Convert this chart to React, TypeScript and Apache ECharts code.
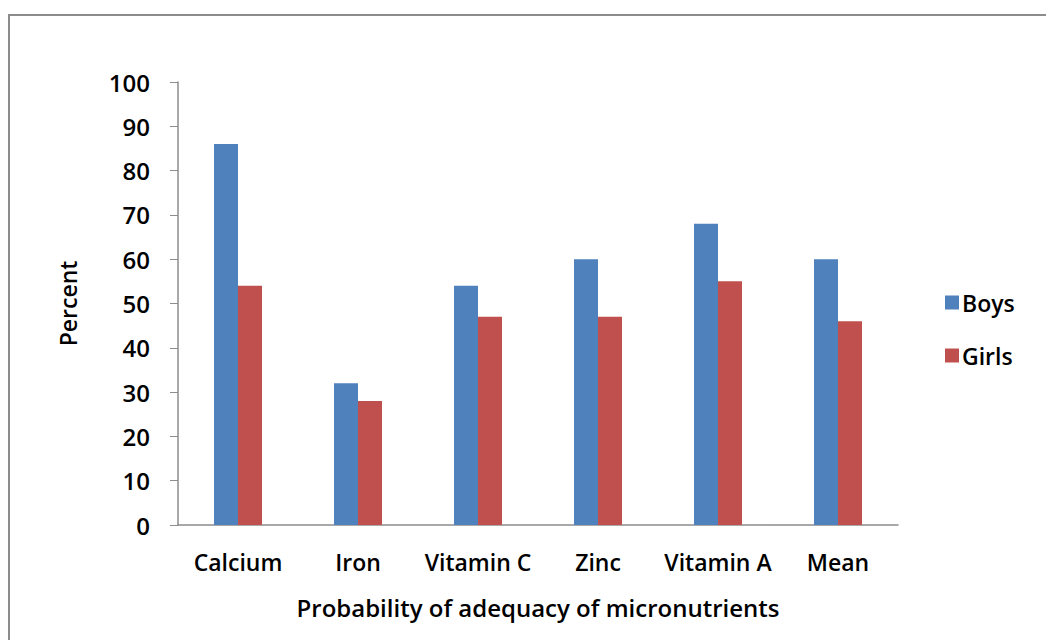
import React, { useEffect, useRef } from "react";
import * as echarts from "echarts";

const categories = ["Calcium", "Iron", "Vitamin C", "Zinc", "Vitamin A", "Mean"];
const boys = [86, 32, 54, 60, 68, 60];
const girls = [54, 28, 47, 47, 55, 46];
const yTicks = { min: 0, max: 100, interval: 10 };

const FONT = "'Open Sans', 'Noto Sans', sans-serif";

export default function App() {
  const ref = useRef<HTMLDivElement>(null);
  useEffect(() => {
    if (!ref.current) return;
    const chart = echarts.init(ref.current, null, { renderer: "svg" });
    chart.setOption({
      animation: false,
      backgroundColor: "#ffffff",
      textStyle: { fontFamily: FONT },
      graphic: [
        {
          type: "rect",
          shape: { x: 9, y: 15, width: 1100, height: 700 },
          style: { fill: "none", stroke: "#8c8c8c", lineWidth: 2 },
          silent: true,
        },
      ],
      grid: { left: 178, top: 82, right: 148, bottom: 115, containLabel: false },
      legend: {
        orient: "vertical",
        left: 940,
        top: 286,
        itemWidth: 14,
        itemHeight: 14,
        itemGap: 30,
        icon: "rect",
        textStyle: { fontFamily: FONT, fontSize: 23, fontWeight: 600, color: "#000", padding: [0, 0, 0, -2] },
        data: ["Boys", "Girls"],
      },
      xAxis: {
        type: "category",
        data: categories,
        name: "Probability of adequacy of micronutrients",
        nameLocation: "middle",
        nameGap: 70,
        nameTextStyle: { fontFamily: FONT, fontSize: 24, fontWeight: 600, color: "#000" },
        axisLine: { lineStyle: { color: "#8c8c8c", width: 1.5 } },
        axisTick: { show: false },
        axisLabel: { fontFamily: FONT, fontSize: 23, fontWeight: 600, color: "#000", margin: 25, interval: 0 },
      },
      yAxis: {
        type: "value",
        min: yTicks.min,
        max: yTicks.max,
        interval: yTicks.interval,
        name: "Percent",
        nameLocation: "middle",
        nameGap: 99,
        nameRotate: 90,
        nameTextStyle: { fontFamily: FONT, fontSize: 23, fontWeight: 600, color: "#000" },
        axisLine: { show: true, lineStyle: { color: "#8c8c8c", width: 1.5 } },
        axisTick: { show: true, length: 8, lineStyle: { color: "#8c8c8c" } },
        splitLine: { show: false },
        axisLabel: { fontFamily: FONT, fontSize: 24, fontWeight: 600, color: "#000", margin: 28 },
      },
      series: [
        {
          name: "Boys",
          type: "bar",
          data: boys,
          barWidth: 24,
          barGap: "0%",
          itemStyle: { color: "#4f81bd" },
        },
        {
          name: "Girls",
          type: "bar",
          data: girls,
          barWidth: 24,
          barGap: "0%",
          itemStyle: { color: "#c0504d" },
        },
      ],
    });
    return () => chart.dispose();
  }, []);
  return (
    <div
      ref={ref}
      style={{ position: "fixed", left: 0, top: 0, width: 1046, height: 640 }}
    />
  );
}
